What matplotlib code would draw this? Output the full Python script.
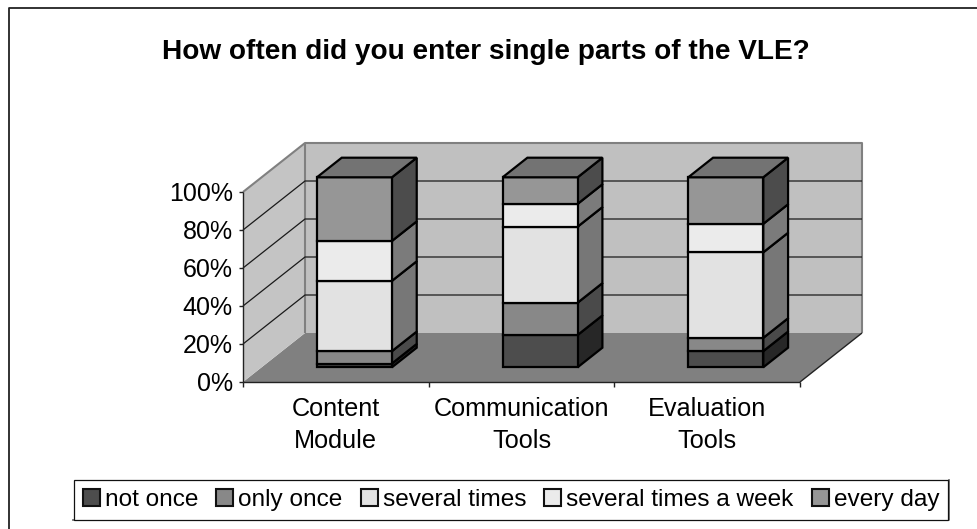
import matplotlib
matplotlib.use("Agg")
import matplotlib.pyplot as plt
from matplotlib.patches import Polygon, Patch
from matplotlib.lines import Line2D

plt.rcParams['font.family'] = ['Liberation Sans', 'DejaVu Sans']

categories = ["Content\nModule", "Communication\nTools", "Evaluation\nTools"]
series_names = ["not once", "only once", "several times", "several times a week", "every day"]
not_once = [2, 17, 8.5]
only_once = [6.5, 17, 7]
several_times = [37, 40, 45]
several_week = [21, 12, 15]
every_day = [33.5, 14, 24.5]
series = [not_once, only_once, several_times, several_week, every_day]
y_ticks = [0, 20, 40, 60, 80, 100]
y_labels = ["0%", "20%", "40%", "60%", "80%", "100%"]

front_colors = ["#4d4d4d", "#888888", "#e2e2e2", "#ebebeb", "#969696"]
side_colors = ["#272727", "#4a4a4a", "#777777", "#7b7b7b", "#4c4c4c"]
top_color = "#737373"

W, H = 978, 529
fig = plt.figure(figsize=(W / 100, H / 100), dpi=100, facecolor="white")

# front plane of the 3D box
L, R, T, B = 243, 800, 192, 382
ax = fig.add_axes([L / W, 1 - B / H, (R - L) / W, (B - T) / H])
ax.set_xlim(0, 3)
ax.set_ylim(0, 100)
ax.axis("off")

SKEW_X = 62 / ((R - L) / 3)     # category units per unit of depth
SKEW_Y = 49 / ((B - T) / 100)   # percent units per unit of depth


def proj(x, y, d):
    return (x + d * SKEW_X, y + d * SKEW_Y)


def face(pts, fc, ec="none", lw=0, z=1):
    ax.add_patch(Polygon([proj(*p) for p in pts], closed=True, facecolor=fc, edgecolor=ec,
                         linewidth=lw, zorder=z, clip_on=False, joinstyle="miter"))


def line(pts, color, lw, z=2):
    xs, ys = zip(*[proj(*p) for p in pts])
    ax.add_line(Line2D(xs, ys, color=color, lw=lw, zorder=z, clip_on=False, solid_capstyle="butt"))


# walls and floor
face([(0, 0, 0), (3, 0, 0), (3, 0, 1), (0, 0, 1)], "#808080")
face([(0, 0, 1), (3, 0, 1), (3, 100, 1), (0, 100, 1)], "#c0c0c0")
face([(0, 0, 0), (0, 0, 1), (0, 100, 1), (0, 100, 0)], "#c4c4c4")
line([(0, 100, 0), (0, 100, 1), (3, 100, 1), (3, 0, 1)], "#808080", 1.5)
line([(0, 0, 1), (0, 100, 1)], "#808080", 1.5)
for t in y_ticks[1:-1]:
    line([(0, t, 0), (0, t, 1), (3, t, 1)], "#1a1a1a", 0.9)

# axes lines and ticks
TX = 4 / ((R - L) / 3)
TY = 5 / ((B - T) / 100)
line([(0, 0, 0), (0, 100, 0)], "#222222", 1.0, 2)
line([(0, 0, 0), (3, 0, 0)], "#222222", 1.0, 2)
line([(3, 0, 0), (3, 0, 1)], "#222222", 1.0, 2)
for t, lab in zip(y_ticks, y_labels):
    line([(-TX, t, 0), (0, t, 0)], "#222222", 1.0, 2)
    ax.text(-10 / ((R - L) / 3), t - 1.0, lab, ha="right", va="center", fontsize=18, color="black", clip_on=False)
for i in range(len(categories) + 1):
    line([(i, 0, 0), (i, -TY, 0)], "#222222", 1.0, 2)
for i, c in enumerate(categories):
    ax.text(i + 0.5, -8, c, ha="center", va="top", fontsize=18.2, color="black",
            linespacing=1.4, clip_on=False)

# bars
D0, D1 = 0.3, 0.7
BW = 75 / ((R - L) / 3)
EDGE = 1.6
z = 5
for i in range(len(categories)):
    x0, x1 = i + 0.5 - BW / 2, i + 0.5 + BW / 2
    base = 0
    for s, vals in enumerate(series):
        top = base + vals[i]
        face([(x1, base, D0), (x1, base, D1), (x1, top, D1), (x1, top, D0)], side_colors[s], "black", EDGE, z)
        face([(x0, base, D0), (x1, base, D0), (x1, top, D0), (x0, top, D0)], front_colors[s], "black", EDGE, z + 1)
        z += 2
        base = top
    face([(x0, base, D0), (x1, base, D0), (x1, base, D1), (x0, base, D1)], top_color, "black", EDGE, z)
    z += 1

# title
fig.text(485.5 / W, 1 - 52 / H, "How often did you enter single parts of the VLE?", ha="center", va="center",
         fontsize=20.2, fontweight="bold", color="black")

# chart frame
fig.add_artist(Line2D([8.5 / W, 8.5 / W, 978 / W], [0, 1 - 8 / H, 1 - 8 / H], color="#222222", lw=1.3))
# legend
handles = [Patch(facecolor=c, edgecolor="#111111", linewidth=1.5) for c in front_colors]
leg = fig.legend(handles, series_names, loc="center", bbox_to_anchor=(511 / W, 1 - 500 / H), ncol=5,
                 fontsize=17.6, frameon=True, fancybox=False, edgecolor="#111111", framealpha=1,
                 handlelength=0.7, handleheight=0.7, handletextpad=0.2, columnspacing=0.74,
                 borderpad=0.38, borderaxespad=0)
leg.get_frame().set_linewidth(0.9)
fig.add_artist(Line2D([73 / W, 949.5 / W, 949.5 / W], [1 - 520 / H, 1 - 520 / H, 1 - 480 / H], color="#707070", lw=1.3, zorder=5))

fig.savefig("out.png", dpi=100)
